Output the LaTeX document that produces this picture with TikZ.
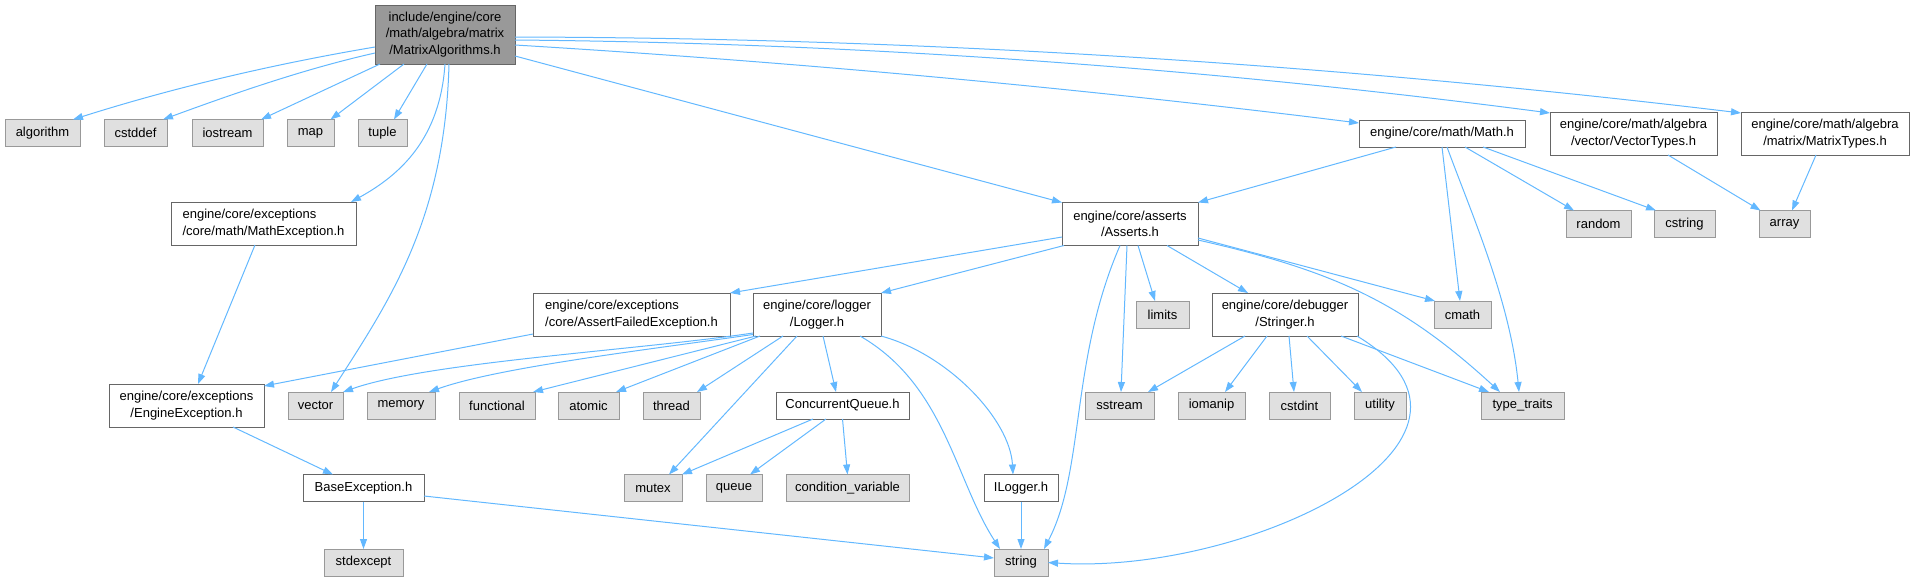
\documentclass[tikz,border=0pt]{standalone}
\usepackage{fontspec}
\setmainfont{Liberation Sans}
\usetikzlibrary{arrows.meta}
\definecolor{edgeblue}{HTML}{63B8FF}
\definecolor{sysfill}{HTML}{E0E0E0}
\definecolor{sysline}{HTML}{999999}
\definecolor{fileline}{HTML}{666666}
\definecolor{rootfill}{HTML}{999999}

\begin{document}
\begin{tikzpicture}[x=1pt,y=1pt,
  every node/.style={font=\fontsize{13}{16.5}\selectfont,inner sep=0pt,outer sep=0pt,line width=1pt},
  sysbox/.style={draw=sysline,fill=sysfill,minimum height=27pt},
  filebox/.style={draw=fileline,fill=white,minimum height=27pt},
  tallbox/.style={filebox,minimum height=43pt},
  rootbox/.style={draw=fileline,fill=rootfill,minimum height=59pt},
  incl/.style={draw=edgeblue,line width=1pt,-{Triangle[length=10pt,width=7pt]}}]
\useasboundingbox (0,0) rectangle (1914,-581);

\node[rootbox,minimum width=140pt,align=center] (root) at (445,-34.5) {include/engine/core\\/math/algebra/matrix\\/MatrixAlgorithms.h};
\node[sysbox,minimum width=75pt] (algorithm) at (42.5,-133) {algorithm};
\node[sysbox,minimum width=63pt] (cstddef) at (135.5,-133) {cstddef};
\node[sysbox,minimum width=71pt] (iostream) at (227.5,-133) {iostream};
\node[sysbox,minimum width=47pt] (map) at (310.5,-133) {map};
\node[sysbox,minimum width=49pt] (tuple) at (382.5,-133) {tuple};
\node[tallbox,minimum width=185pt,align=left] (mathexc) at (263.5,-223.5) {engine/core/exceptions\\/core/math/MathException.h};
\node[filebox,minimum width=166pt] (mathh) at (1442,-133.5) {engine/core/math/Math.h};
\node[tallbox,minimum width=167pt,align=center] (vectypes) at (1633.5,-133.5) {engine/core/math/algebra\\/vector/VectorTypes.h};
\node[tallbox,minimum width=168pt,align=center] (mattypes) at (1825,-133.5) {engine/core/math/algebra\\/matrix/MatrixTypes.h};
\node[sysbox,minimum width=65pt] (random) at (1598.5,-224) {random};
\node[sysbox,minimum width=61pt] (cstring) at (1684.5,-224) {cstring};
\node[sysbox,minimum width=51pt] (array) at (1784.5,-224) {array};
\node[tallbox,minimum width=136pt,align=center] (asserts) at (1130,-224) {engine/core/asserts\\/Asserts.h};
\node[tallbox,minimum width=197pt,align=left] (assertfail) at (631.5,-314.5) {engine/core/exceptions\\/core/AssertFailedException.h};
\node[tallbox,minimum width=128pt,align=center] (logger) at (817,-314.5) {engine/core/logger\\/Logger.h};
\node[sysbox,minimum width=53pt] (limits) at (1162.5,-314.5) {limits};
\node[tallbox,minimum width=146pt,align=center] (stringer) at (1285,-314.5) {engine/core/debugger\\/Stringer.h};
\node[sysbox,minimum width=57pt] (cmath) at (1462.5,-314.5) {cmath};
\node[tallbox,minimum width=155pt,align=center] (engexc) at (186.5,-405.5) {engine/core/exceptions\\/EngineException.h};
\node[sysbox,minimum width=55pt] (vector) at (315.5,-405.5) {vector};
\node[sysbox,minimum width=68pt] (memory) at (401,-405.5) {memory};
\node[sysbox,minimum width=76pt] (functional) at (497,-405.5) {functional};
\node[sysbox,minimum width=61pt] (atomic) at (588.5,-405.5) {atomic};
\node[sysbox,minimum width=57pt] (thread) at (671.5,-405.5) {thread};
\node[filebox,minimum width=133pt] (cqueue) at (842.5,-405.5) {ConcurrentQueue.h};
\node[sysbox,minimum width=69pt] (sstream) at (1119.5,-405.5) {sstream};
\node[sysbox,minimum width=67pt] (iomanip) at (1211.5,-405.5) {iomanip};
\node[sysbox,minimum width=61pt] (cstdint) at (1299.5,-405.5) {cstdint};
\node[sysbox,minimum width=52pt] (utility) at (1380,-405.5) {utility};
\node[sysbox,minimum width=83pt] (typetraits) at (1522.5,-405.5) {type\_traits};
\node[filebox,minimum width=121pt] (baseexc) at (363.5,-488) {BaseException.h};
\node[sysbox,minimum width=58pt] (mutex) at (653,-488) {mutex};
\node[sysbox,minimum width=56pt] (queue) at (734,-488) {queue};
\node[sysbox,minimum width=123pt] (condvar) at (847.5,-488) {condition\_variable};
\node[filebox,minimum width=74pt] (ilogger) at (1021,-488) {ILogger.h};
\node[sysbox,minimum width=79pt] (stdexcept) at (363.5,-562.5) {stdexcept};
\node[sysbox,minimum width=54pt] (string) at (1021,-562.5) {string};

\draw[incl] ([yshift=-12.5pt]root.west) .. controls +(-101,-17) and +(101,32) .. ([xshift=30.5pt]algorithm.north);
\draw[incl] ([yshift=-18.5pt]root.west) .. controls +(-71,-16) and +(71,26) .. ([xshift=27.5pt]cstddef.north);
\draw[incl] ([xshift=-65pt]root.south) -- ([xshift=33.5pt]iostream.north);
\draw[incl] ([xshift=-41pt]root.south) -- ([xshift=20pt]map.north);
\draw[incl] ([xshift=-18pt]root.south) -- ([xshift=11.5pt]tuple.north);
\draw[incl] (root.south) .. controls +(-5,-75) and +(49,27) .. ([xshift=87.5pt]mathexc.north);
\draw[incl] ([xshift=4pt]root.south) .. controls +(-4,-155) and +(59,92) .. ([xshift=15.5pt]vector.north);
\draw[incl] ([yshift=-21.5pt]root.east) -- (asserts.north west);
\draw[incl] ([yshift=-10.5pt]root.east) .. controls +(281,-17) and +(-281,35) .. ([yshift=10.5pt]mathh.west);
\draw[incl] ([yshift=-5.5pt]root.east) .. controls +(344,-3) and +(-344,45) .. ([yshift=20.5pt]vectypes.west);
\draw[incl] ([yshift=-2.5pt]root.east) .. controls +(408,-1) and +(-408,49) .. ([yshift=20.5pt]mattypes.west);

\draw[incl] ([xshift=-46pt]mathh.south) -- (asserts.north east);
\draw[incl] (mathh.south) -- ([xshift=-2.5pt]cmath.north);
\draw[incl] ([xshift=5pt]mathh.south) .. controls +(23,-63) and +(-9,92) .. ([xshift=-3.5pt]typetraits.north);
\draw[incl] ([xshift=23pt]mathh.south) -- ([xshift=-24.5pt]random.north);
\draw[incl] ([xshift=41pt]mathh.south) -- ([xshift=-28.5pt]cstring.north);
\draw[incl] ([xshift=34.5pt]vectypes.south) -- ([xshift=-24pt]array.north);
\draw[incl] ([xshift=-9pt]mattypes.south) -- ([xshift=7.5pt]array.north);

\draw[incl] ([xshift=-8.5pt]mathexc.south) -- ([xshift=11.5pt]engexc.north);
\draw[incl] ([yshift=-19.5pt]assertfail.west) -- ([yshift=19.5pt]engexc.east);
\draw[incl] ([xshift=46.5pt]engexc.south) -- ([xshift=-30.5pt]baseexc.north);
\draw[incl] (baseexc.south) -- (stdexcept.north);
\draw[incl] ([yshift=-8pt]baseexc.east) -- ([yshift=4.5pt]string.west);

\draw[incl] ([yshift=-13pt]asserts.west) -- (assertfail.north east);
\draw[incl] ([xshift=-66pt]asserts.south) -- (logger.north east);
\draw[incl] ([xshift=-10pt]asserts.south) .. controls +(-50,-115) and +(41,79) .. ([xshift=23pt]string.north);
\draw[incl] ([xshift=-3pt]asserts.south) -- ([xshift=1.5pt]sstream.north);
\draw[incl] ([xshift=8pt]asserts.south) -- ([xshift=-7.5pt]limits.north);
\draw[incl] ([xshift=37pt]asserts.south) -- ([xshift=-37pt]stringer.north);
\draw[incl] ([yshift=-14pt]asserts.east) -- ([xshift=1pt]cmath.north west);
\draw[incl] ([yshift=-16pt]asserts.east) .. controls +(132,-30) and +(-100,92) .. ([xshift=-22.5pt]typetraits.north);

\draw[incl] ([yshift=-18.5pt]logger.west) .. controls +(-113,-17) and +(85,30) .. (vector.north east);
\draw[incl] ([yshift=-20pt]logger.west) .. controls +(-103,-15) and +(70,25) .. ([xshift=28pt]memory.north);
\draw[incl] ([xshift=-61pt]logger.south) -- ([xshift=-2pt]functional.north east);
\draw[incl] ([xshift=-57pt]logger.south) -- ([xshift=27.5pt]atomic.north);
\draw[incl] ([xshift=-34pt]logger.south) -- ([xshift=25.5pt]thread.north);
\draw[incl] ([xshift=-20pt]logger.south) -- ([xshift=16pt]mutex.north);
\draw[incl] ([xshift=6pt]logger.south) -- ([xshift=-6.5pt]cqueue.north);
\draw[incl] ([xshift=43pt]logger.south) .. controls +(85,-49) and +(-45,69) .. ([xshift=-21pt]string.north);
\draw[incl] (logger.south east) .. controls +(67,-18) and +(-3,55) .. ([xshift=-8pt]ilogger.north);

\draw[incl] ([xshift=-29.5pt]cqueue.south) -- (mutex.north east);
\draw[incl] ([xshift=-16.5pt]cqueue.south) -- ([xshift=16pt]queue.north);
\draw[incl] (cqueue.south) -- (condvar.north);
\draw[incl] (ilogger.south) -- (string.north);

\draw[incl] ([xshift=-40pt]stringer.south) -- ([xshift=28.5pt]sstream.north);
\draw[incl] ([xshift=-18pt]stringer.south) -- ([xshift=13.5pt]iomanip.north);
\draw[incl] ([xshift=4pt]stringer.south) -- ([xshift=-5.5pt]cstdint.north);
\draw[incl] ([xshift=22pt]stringer.south) -- ([xshift=-18pt]utility.north);
\draw[incl] ([xshift=56pt]stringer.south) -- ([xshift=-33.5pt]typetraits.north);
\draw[incl] ([xshift=-1pt]stringer.south east) .. controls +(172,-104) and +(200,-13) .. (string.east);

\end{tikzpicture}
\end{document}
